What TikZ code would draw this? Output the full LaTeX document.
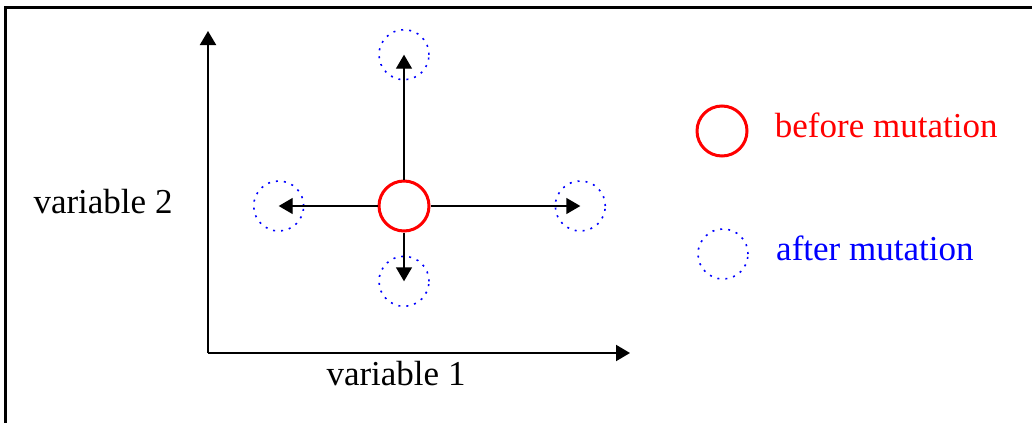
\documentclass[tikz,border=0pt]{standalone}
\usepackage{fontspec}
\setmainfont{Liberation Serif}
\usetikzlibrary{arrows.meta,positioning}
\tikzset{
before_dot/.style={circle, draw=red, line width=1.5pt, fill=white, inner sep=0, minimum size=25pt},
after_dot/.style={circle, draw=blue, line width=0.8pt, dash pattern=on 1pt off 3pt, inner sep=0, minimum size=25pt},
move_arrow/.style={-{Triangle[length=7pt,width=8pt]}, line width=0.7pt},
axis_arrow/.style={-{Triangle[length=7pt,width=8pt]}, line width=1pt},
label_text/.style={font=\fontsize{17.5}{20}\selectfont, inner sep=0}
}

\begin{document}
\begin{tikzpicture}[x=0.5pt, y=-0.5pt]
    \useasboundingbox (0,0) rectangle (1032,423);
    \draw[line width=1.75pt] (1032,7.5) -- (5.5,7.5) -- (5.5,423);
    % axes
    \coordinate (origin) at (208,353);
    \coordinate (x_end) at (630,353);
    \coordinate (y_end) at (208,31);
    \draw[axis_arrow] (origin) -- (x_end);
    \draw[axis_arrow] (origin) -- (y_end);
    \node[label_text] (x_label) at (396,374) {variable 1};
    \node[label_text] (y_label) at (103,202) {variable 2};
    % one parent, four offspring
    \node[before_dot] (orig) at (404,206) {};
    \node[after_dot] (up) [above=49.5pt of orig] {};
    \node[after_dot] (down) [below=11.5pt of orig] {};
    \node[after_dot] (left) [left=36.5pt of orig] {};
    \node[after_dot] (right) [right=62pt of orig] {};
    \draw[move_arrow] (orig) -- (up.center);
    \draw[move_arrow] (orig) -- (down.center);
    \draw[move_arrow] (orig) -- (left.center);
    \draw[move_arrow] (orig) -- (right.center);
    % legend
    \node[before_dot] (key_before) at (722,131) {};
    \node[label_text, text=red] (before_text) [right=13pt of key_before, yshift=3pt] {before mutation};
    \node[after_dot] (key_after) at (723,254) {};
    \node[label_text, text=blue] (after_text) [right=13.5pt of key_after, yshift=3pt] {after mutation};
\end{tikzpicture}
\end{document}
